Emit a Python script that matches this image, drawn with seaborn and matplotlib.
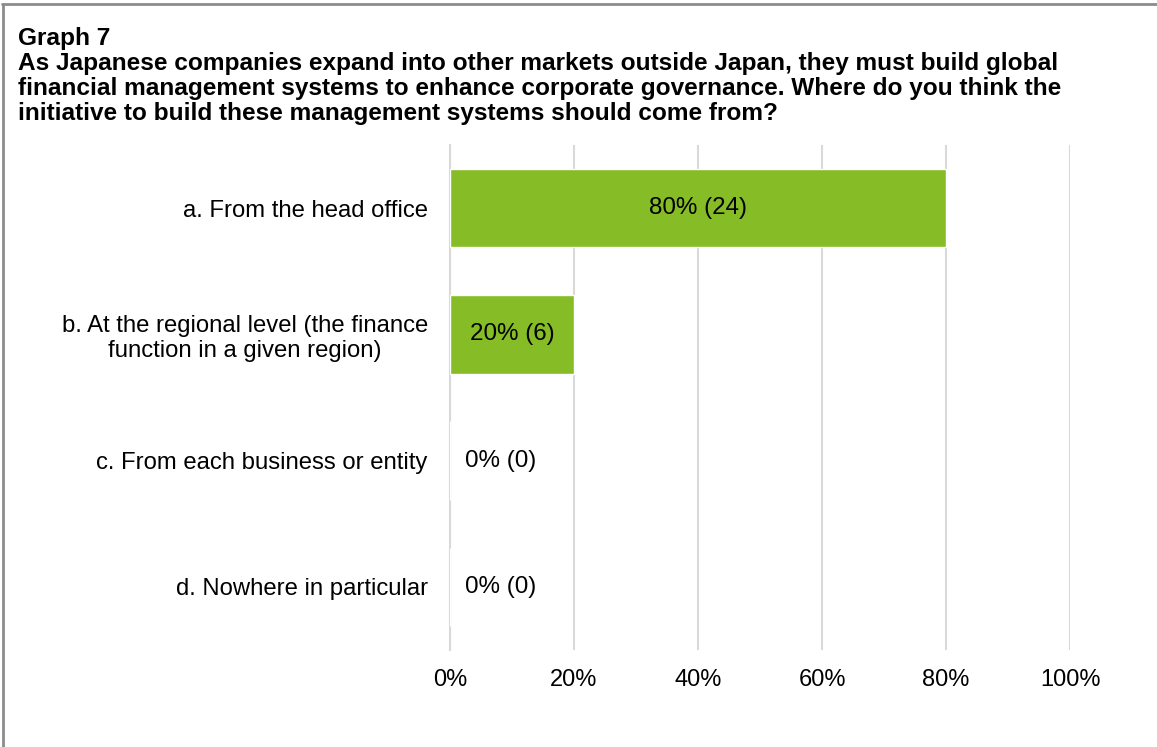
import matplotlib
matplotlib.use("Agg")
import matplotlib.pyplot as plt
import seaborn as sns
import pandas as pd
from matplotlib.ticker import FixedLocator

categories = [
    "a. From the head office",
    "b. At the regional level (the finance\nfunction in a given region)",
    "c. From each business or entity",
    "d. Nowhere in particular",
]
shares = [80, 20, 0, 0]
counts = [24, 6, 0, 0]
x_ticks = [0, 20, 40, 60, 80, 100]
x_tick_labels = ["0%", "20%", "40%", "60%", "80%", "100%"]

title_lines = [
    "Graph 7",
    "As Japanese companies expand into other markets outside Japan, they must build global",
    "financial management systems to enhance corporate governance. Where do you think the",
    "initiative to build these management systems should come from?",
]

sns.set_theme(style="white")
plt.rcParams["font.family"] = ["Liberation Sans", "DejaVu Sans"]

W, H = 1157, 747
fig = plt.figure(figsize=(W / 100, H / 100), dpi=100)
fig.patch.set_facecolor("white")

left, right, top, bottom = 450, 1070, 145, 650
ax = fig.add_axes([left / W, 1 - bottom / H, (right - left) / W, (bottom - top) / H])

df = pd.DataFrame({"category": categories, "share": shares})
sns.barplot(data=df, x="share", y="category", orient="h", color="#86BC25",
            saturation=1, width=0.62, edgecolor="white", linewidth=1, ax=ax, zorder=3)

ax.set_xlim(0, 100)
ax.set_ylim(len(categories) - 0.5, -0.5)
ax.set_xlabel("")
ax.set_ylabel("")

grid_col = "#d9d9d9"
cat_size = 17.2
tick_size = 17
value_size = 17.4
ax.xaxis.set_major_locator(FixedLocator(x_ticks))
ax.set_xticklabels(x_tick_labels, fontsize=tick_size, color="black")
ax.tick_params(axis="x", length=0, pad=14)
ax.grid(axis="x", color=grid_col, linewidth=1.5, zorder=0)
ax.grid(axis="y", visible=False)

# category boundary ticks on the vertical axis
ax.set_yticks([i - 0.5 for i in range(len(categories) + 1)], minor=False)
ax.set_yticklabels([])
ax.set_yticks(range(len(categories)), minor=True)
ax.set_yticklabels(categories, minor=True, fontsize=cat_size, color="black",
                   multialignment="center")
ax.tick_params(axis="y", which="major", length=6, color=grid_col, width=1.5, direction="out")
ax.tick_params(axis="y", which="minor", length=0, pad=16)

for s in ["top", "right", "bottom"]:
    ax.spines[s].set_visible(False)
ax.spines["left"].set_color(grid_col)
ax.spines["left"].set_linewidth(1.5)

for i, (v, n) in enumerate(zip(shares, counts)):
    label = f"{v}% ({n})"
    if v > 0:
        ax.text(v / 2, i, label, ha="center", va="center", fontsize=value_size,
                color="black", zorder=4)
    else:
        ax.annotate(label, (0, i), xytext=(11, 0), textcoords="offset points",
                    ha="left", va="center", fontsize=value_size, color="black", zorder=4)

# heading, one line per baseline
baselines = [45, 70, 95, 120]
for line, y in zip(title_lines, baselines):
    fig.text(18 / W, 1 - y / H, line, ha="left", va="baseline",
             fontsize=17.6, fontweight="bold", color="black")

# frame lines along the top and left edges
border = "#8c8c8c"
fig.add_artist(plt.Line2D([2 / W, 1], [1 - 4 / H, 1 - 4 / H], transform=fig.transFigure,
                          color=border, linewidth=2))
fig.add_artist(plt.Line2D([3 / W, 3 / W], [0, 1 - 4 / H], transform=fig.transFigure,
                          color=border, linewidth=2))

fig.savefig("out.png", dpi=100, facecolor="white")
